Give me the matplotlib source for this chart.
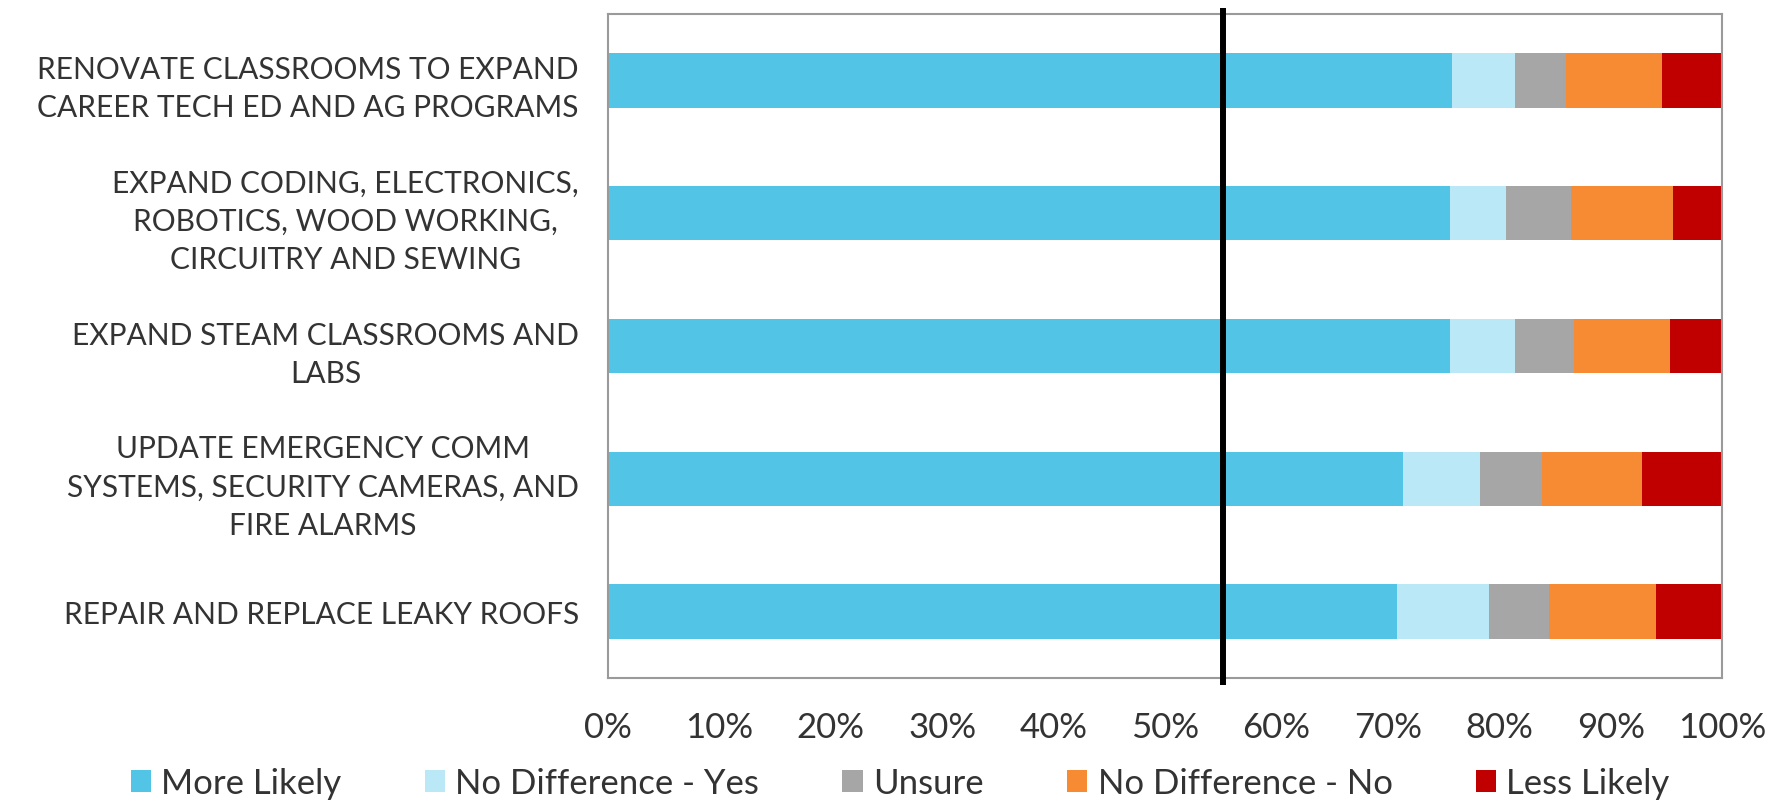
import matplotlib as mpl
mpl.use("Agg")
import matplotlib.pyplot as plt
import numpy as np

# data (percent of respondents)
projects = [
    "RENOVATE CLASSROOMS TO EXPAND\nCAREER TECH ED AND AG PROGRAMS",
    "EXPAND CODING, ELECTRONICS,\nROBOTICS, WOOD WORKING,\nCIRCUITRY AND SEWING",
    "EXPAND STEAM CLASSROOMS AND\nLABS",
    "UPDATE EMERGENCY COMM\nSYSTEMS, SECURITY CAMERAS, AND\nFIRE ALARMS",
    "REPAIR AND REPLACE LEAKY ROOFS",
]
series_names = ["More Likely", "No Difference - Yes", "Unsure",
                "No Difference - No", "Less Likely"]
more_likely = [75.8, 75.6, 75.6, 71.4, 70.8]
nodiff_yes = [5.6, 5.0, 5.8, 6.9, 8.3]
unsure = [4.6, 5.8, 5.3, 5.5, 5.4]
nodiff_no = [8.6, 9.2, 8.6, 9.0, 9.6]
less_likely = [5.4, 4.4, 4.7, 7.2, 5.9]
threshold = 55.2
xticks = [0, 10, 20, 30, 40, 50, 60, 70, 80, 90, 100]

COLORS = ["#52C5E6", "#BAE8F6", "#A6A6A6", "#F78B34", "#C00000"]
TEXT = "#333333"

plt.rcParams.update({
    "font.family": ["Lato", "DejaVu Sans"],
    "text.color": TEXT,
    "xtick.color": TEXT,
    "ytick.color": TEXT,
})

fig = plt.figure(figsize=(17.79, 8.04), dpi=100)
ax = fig.add_axes([0.3418, 0.1555, 0.968 - 0.3418, 0.9813 - 0.1555])

ypos = np.arange(len(projects))
left = np.zeros(len(projects))
for name, vals, col in zip(series_names,
                           [more_likely, nodiff_yes, unsure, nodiff_no, less_likely],
                           COLORS):
    vals = np.asarray(vals, dtype=float)
    ax.barh(ypos, vals, left=left, height=0.41, color=col, label=name, zorder=2)
    left += vals

ax.axvline(threshold, ymin=-0.01, ymax=1.009, color="black", lw=4.3,
           solid_capstyle="butt", clip_on=False, zorder=3)

ax.set_xlim(0, 100)
ax.set_ylim(len(projects) - 0.5, -0.5)
ax.set_yticks(ypos)
ax.set_yticklabels(projects, fontsize=21.5)
for lab in ax.get_yticklabels():
    lab.set_multialignment("center")
    lab.set_linespacing(1.45)
ax.set_xticks(xticks)
ax.set_xticklabels([f"{t}%" for t in xticks], fontsize=25)
ax.tick_params(axis="both", length=0)
ax.tick_params(axis="y", pad=21)
ax.tick_params(axis="x", pad=24)

for sp in ax.spines.values():
    sp.set_color("#9A9A9A")
    sp.set_linewidth(1.5)

handles, labels = ax.get_legend_handles_labels()
fig.legend(handles, labels, loc="center", bbox_to_anchor=(0.506, 1 - 784 / 804),
           ncol=5, frameon=False, fontsize=25, handlelength=0.58,
           handleheight=0.6, handletextpad=0.3, columnspacing=2.4,
           borderpad=0, borderaxespad=0)

fig.savefig("out.png", dpi=100)
